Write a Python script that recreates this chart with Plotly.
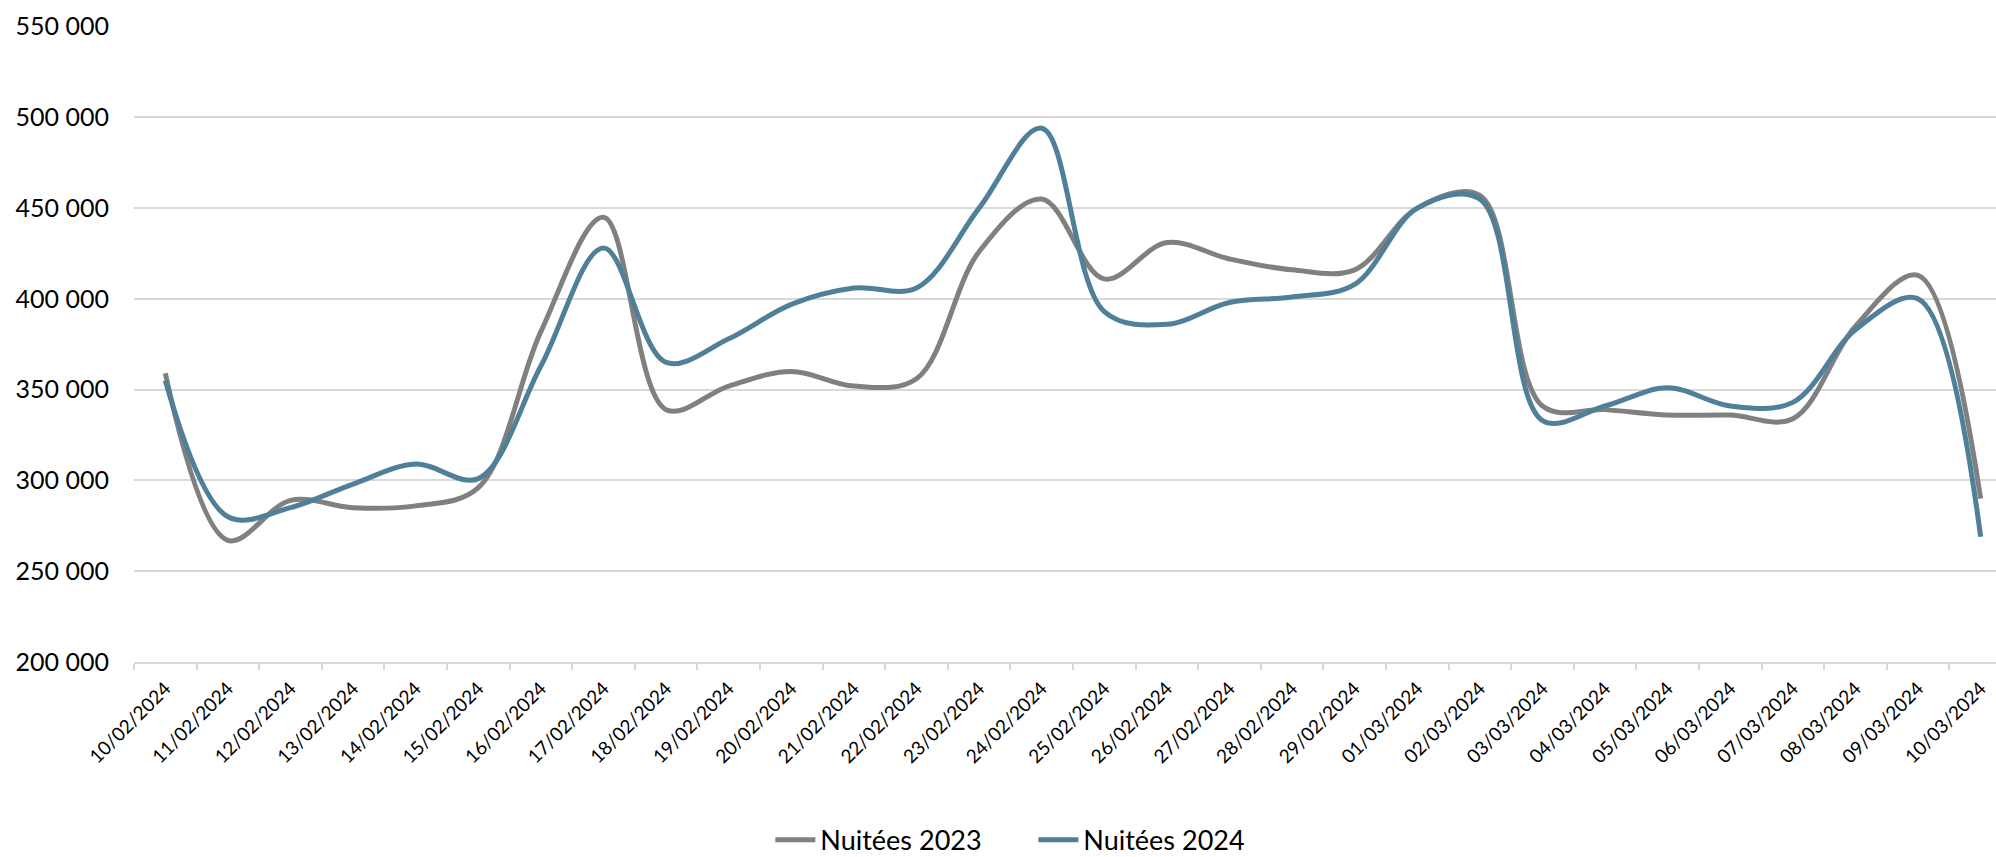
import plotly.graph_objects as go

# dates (categories)
dates = [
    "10/02/2024", "11/02/2024", "12/02/2024", "13/02/2024", "14/02/2024",
    "15/02/2024", "16/02/2024", "17/02/2024", "18/02/2024", "19/02/2024",
    "20/02/2024", "21/02/2024", "22/02/2024", "23/02/2024", "24/02/2024",
    "25/02/2024", "26/02/2024", "27/02/2024", "28/02/2024", "29/02/2024",
    "01/03/2024", "02/03/2024", "03/03/2024", "04/03/2024", "05/03/2024",
    "06/03/2024", "07/03/2024", "08/03/2024", "09/03/2024", "10/03/2024",
]

nuitees_2023 = [
    359000, 267000, 289000, 285000, 286000, 296000, 382000, 445000, 339000, 352000,
    360000, 352000, 356000, 426000, 455000, 411000, 431000, 422000, 416000, 416000,
    450000, 457000, 341000, 339000, 336000, 336000, 334000, 385000, 413000, 290000,
]
nuitees_2024 = [
    355000, 280000, 285000, 298000, 309000, 301000, 363000, 428000, 365000, 378000,
    397000, 406000, 406000, 450000, 494000, 393000, 386000, 398000, 401000, 408000,
    450000, 455000, 333000, 341000, 351000, 341000, 343000, 383000, 400000, 269000,
]

y_ticks = [200000, 250000, 300000, 350000, 400000, 450000, 500000, 550000]
y_labels = ["200 000", "250 000", "300 000", "350 000", "400 000", "450 000", "500 000", "550 000"]

GREY = "#808080"
BLUE = "#4f7f99"
GRID = "#d9d9d9"

fig = go.Figure()
fig.add_trace(go.Scatter(
    x=dates, y=nuitees_2023, mode="lines", name="Nuitées 2023",
    line=dict(color=GREY, width=5, shape="spline", smoothing=1.0),
))
fig.add_trace(go.Scatter(
    x=dates, y=nuitees_2024, mode="lines", name="Nuitées 2024",
    line=dict(color=BLUE, width=5, shape="spline", smoothing=1.0),
))

fig.update_layout(
    width=1996, height=857,
    margin=dict(l=134, r=0, t=26, b=195, autoexpand=False),
    paper_bgcolor="white", plot_bgcolor="white",
    font=dict(family="Lato", color="#000000"),
    showlegend=True,
    legend=dict(orientation="h", x=0.483, xanchor="center", y=-0.28, yanchor="middle",
                font=dict(size=27, family="Lato"), itemwidth=40,
                entrywidth=208, entrywidthmode="pixels", tracegroupgap=0),
    xaxis=dict(
        type="category", range=[-0.5, 29.245], automargin=False,
        tickangle=-45, tickfont=dict(size=19, family="Lato"),
        tickson="boundaries", ticks="outside", ticklen=6, tickcolor=GRID, tickwidth=2,
        showline=True, linecolor=GRID, linewidth=2,
        showgrid=False, zeroline=False, ticklabelstandoff=6,
    ),
    yaxis=dict(
        range=[200000, 550300], tickvals=y_ticks, ticktext=y_labels, automargin=False,
        tickfont=dict(size=25, family="Lato"),
        showgrid=True, gridcolor=GRID, gridwidth=2,
        zeroline=False, showline=False, ticks="", ticklabelstandoff=24,
    ),
)

# page body margin would shift the figure by 8px
fig.write_html("out.html", config={"displayModeBar": False},
               post_script="document.body.style.margin='0';document.body.style.overflow='hidden';")
